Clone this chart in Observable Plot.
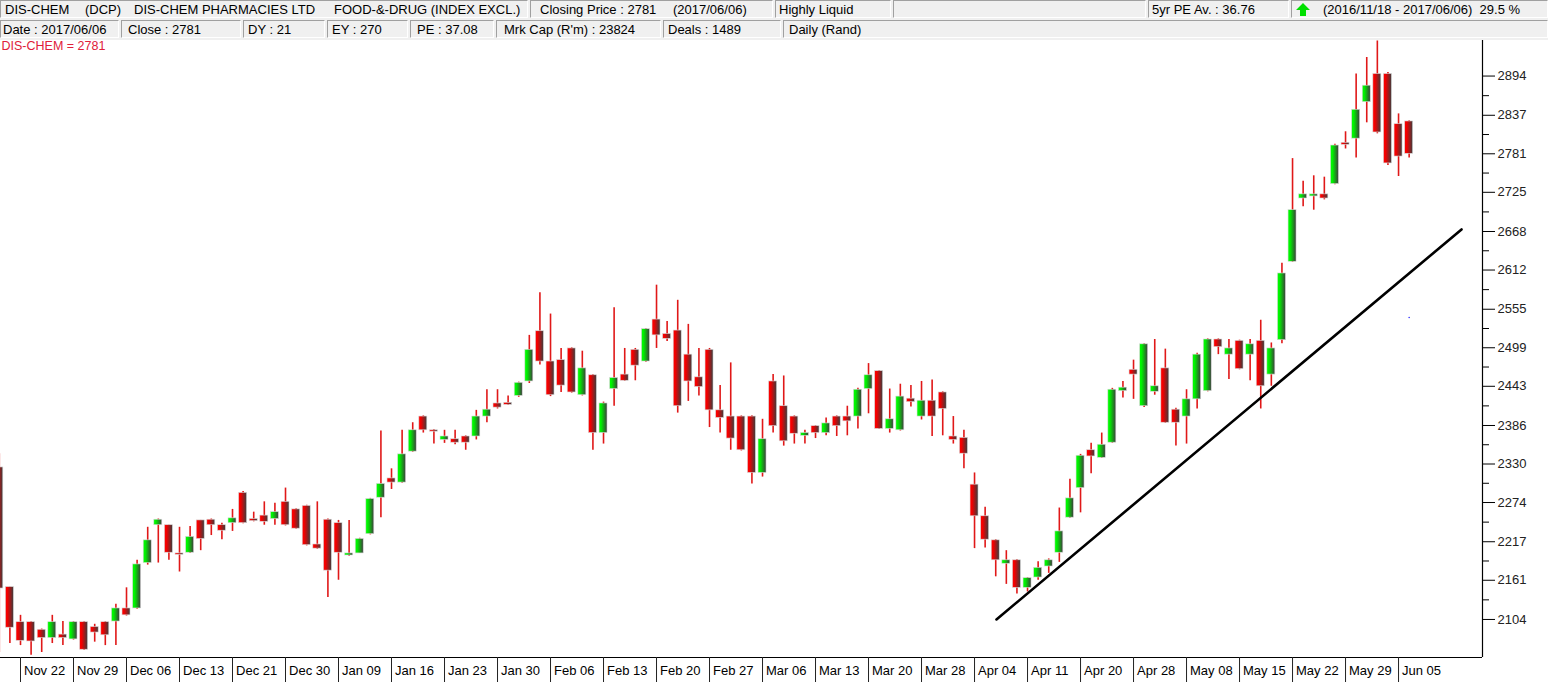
<!DOCTYPE html>
<html>
<head>
<meta charset="utf-8">
<script src="https://cdn.jsdelivr.net/npm/d3@7"></script>
<script src="https://cdn.jsdelivr.net/npm/@observablehq/plot@0.6"></script>
<style>
  html, body { margin: 0; padding: 0; background: #fff; }
  body { width: 1548px; height: 682px; overflow: hidden; font-family: "Liberation Sans", Arial, sans-serif; }
  #hdr { position: relative; width: 1548px; height: 40px; background: #f0f0f0; font-size: 13px; color: #000; }
  .bx { position: absolute; box-sizing: border-box; height: 18px; border: 1px solid; border-color: #a0a0a0 #ffffff #ffffff #a0a0a0; }
  .tx { position: absolute; line-height: 18px; white-space: pre; }
  #chart svg { display: block; }
</style>
</head>
<body>
<svg width="0" height="0" style="position:absolute">
  <defs>
    <linearGradient id="gR" x1="0" x2="1" y1="0" y2="0">
      <stop offset="0" stop-color="#ff0000"/>
      <stop offset="0.25" stop-color="#f20000"/>
      <stop offset="1" stop-color="#3c3c3c"/>
    </linearGradient>
    <linearGradient id="gG" x1="0" x2="1" y1="0" y2="0">
      <stop offset="0" stop-color="#00ff00"/>
      <stop offset="0.25" stop-color="#00f000"/>
      <stop offset="1" stop-color="#3c3c3c"/>
    </linearGradient>
  </defs>
</svg>
<div id="hdr">
  <div class="bx" style="left:0;top:0;width:528px"></div>
  <div class="bx" style="left:530px;top:0;width:243px"></div>
  <div class="bx" style="left:775px;top:0;width:116px"></div>
  <div class="bx" style="left:893px;top:0;width:253px"></div>
  <div class="bx" style="left:1148px;top:0;width:141px"></div>
  <div class="bx" style="left:1291px;top:0;width:257px"></div>
  <span class="tx" style="left:5px;top:1px">DIS-CHEM</span>
  <span class="tx" style="left:85px;top:1px">(DCP)</span>
  <span class="tx" style="left:134px;top:1px">DIS-CHEM PHARMACIES LTD</span>
  <span class="tx" style="left:334px;top:1px">FOOD-&amp;-DRUG (INDEX EXCL.)</span>
  <span class="tx" style="left:540px;top:1px">Closing Price : 2781</span>
  <span class="tx" style="left:673px;top:1px">(2017/06/06)</span>
  <span class="tx" style="left:779px;top:1px">Highly Liquid</span>
  <span class="tx" style="left:1152px;top:1px">5yr PE Av. : 36.76</span>
  <svg style="position:absolute;left:1296px;top:3px" width="14" height="13" viewBox="0 0 14 13">
    <polygon points="7,0 14,7 10,7 10,13 4,13 4,7 0,7" fill="#00e000"/>
  </svg>
  <span class="tx" style="left:1323px;top:1px">(2016/11/18 - 2017/06/06)  29.5 %</span>

  <div class="bx" style="left:0;top:20px;width:119px"></div>
  <div class="bx" style="left:121px;top:20px;width:120px"></div>
  <div class="bx" style="left:243px;top:20px;width:82px"></div>
  <div class="bx" style="left:327px;top:20px;width:81px"></div>
  <div class="bx" style="left:410px;top:20px;width:84px"></div>
  <div class="bx" style="left:496px;top:20px;width:165px"></div>
  <div class="bx" style="left:663px;top:20px;width:118px"></div>
  <div class="bx" style="left:783px;top:20px;width:765px"></div>
  <span class="tx" style="left:3px;top:21px">Date : 2017/06/06</span>
  <span class="tx" style="left:128px;top:21px">Close : 2781</span>
  <span class="tx" style="left:248px;top:21px">DY : 21</span>
  <span class="tx" style="left:332px;top:21px">EY : 270</span>
  <span class="tx" style="left:417px;top:21px">PE : 37.08</span>
  <span class="tx" style="left:504px;top:21px">Mrk Cap (R'm) : 23824</span>
  <span class="tx" style="left:668px;top:21px">Deals : 1489</span>
  <span class="tx" style="left:789px;top:21px">Daily (Rand)</span>
</div>
<div id="chart"></div>
<script>
// Daily OHLC, DIS-CHEM, trading days 2016/11/18 .. 2017/06/06 (index 0..133)
const open  = [2325,2151,2100,2100,2089,2077,2082,2075,2100,2093,2100,2101,2120,2120,2186,2241,2241,2200,2201,2248,
               2249,2241,2244,2288,2250,2255,2250,2275,2264,2269,2213,2249,2244,2197,2200,2228,2281,2309,2303,2348,
               2399,2379,2365,2366,2370,2370,2399,2418,2419,2429,2450,2523,2479,2481,2498,2430,2459,2375,2439,2460,
               2496,2479,2540,2519,2524,2489,2456,2496,2408,2399,2399,2399,2317,2450,2414,2399,2371,2385,2375,2399,
               2399,2399,2439,2465,2381,2379,2425,2399,2422,2434,2370,2368,2300,2254,2219,2185,2190,2150,2165,2181,
               2201,2252,2295,2350,2339,2361,2436,2467,2414,2435,2469,2409,2399,2424,2436,2511,2489,2509,2489,2509,
               2460,2510,2624,2716,2719,2722,2737,2797,2803,2856,2897,2897,2824,2828];
const high  = [2345,2151,2110,2101,2090,2110,2101,2101,2101,2097,2101,2126,2150,2190,2238,2250,2241,2238,2239,2248,
               2250,2244,2264,2290,2260,2275,2273,2295,2265,2270,2275,2250,2248,2248,2222,2280,2378,2323,2379,2390,
               2400,2380,2379,2379,2371,2408,2438,2438,2429,2449,2517,2579,2548,2498,2499,2494,2460,2420,2557,2498,
               2498,2527,2590,2537,2568,2533,2498,2498,2444,2477,2400,2400,2395,2460,2458,2400,2379,2386,2397,2400,
               2414,2440,2476,2466,2439,2446,2444,2450,2452,2435,2399,2379,2317,2267,2220,2204,2191,2165,2188,2192,
               2266,2308,2344,2360,2375,2440,2450,2481,2505,2511,2497,2411,2438,2491,2512,2512,2511,2510,2511,2539,
               2506,2622,2774,2741,2749,2747,2795,2813,2897,2921,2945,2899,2839,2829];
const low   = [2056,2069,2066,2052,2056,2069,2066,2074,2059,2071,2066,2066,2109,2119,2183,2186,2190,2173,2200,2204,
               2226,2220,2232,2243,2246,2241,2241,2240,2235,2211,2206,2136,2161,2196,2200,2227,2252,2293,2302,2347,
               2375,2359,2360,2358,2350,2365,2390,2410,2415,2427,2447,2474,2428,2434,2433,2429,2350,2359,2414,2450,
               2451,2478,2498,2508,2404,2421,2429,2383,2375,2350,2349,2301,2311,2375,2356,2359,2359,2367,2371,2370,
               2371,2381,2403,2380,2375,2378,2413,2394,2370,2371,2359,2323,2207,2208,2166,2155,2141,2144,2161,2171,
               2187,2251,2259,2316,2338,2360,2426,2424,2412,2430,2389,2356,2359,2410,2435,2489,2453,2467,2451,2410,
               2443,2505,2623,2704,2699,2714,2736,2788,2775,2826,2810,2764,2748,2775];
const close = [2149,2092,2073,2072,2077,2100,2077,2100,2060,2085,2081,2120,2110,2184,2219,2249,2201,2198,2224,2221,
               2241,2233,2251,2244,2247,2246,2260,2241,2236,2212,2207,2175,2201,2200,2221,2279,2301,2303,2344,2379,
               2379,2377,2370,2361,2361,2399,2409,2412,2416,2448,2496,2479,2430,2444,2434,2469,2375,2418,2455,2451,
               2473,2526,2517,2512,2414,2450,2442,2408,2397,2367,2350,2317,2366,2385,2363,2374,2375,2375,2389,2385,
               2392,2438,2459,2381,2395,2428,2420,2422,2399,2410,2365,2345,2254,2220,2190,2190,2150,2164,2179,2190,
               2232,2280,2342,2341,2358,2438,2441,2460,2504,2443,2390,2390,2424,2489,2511,2500,2498,2468,2504,2443,
               2498,2607,2699,2722,2722,2716,2793,2794,2845,2880,2812,2767,2777,2781];

// date axis (every 5th trading day)
const tickIdx = [2,7,12,17,22,27,32,37,42,47,52,57,62,67,72,77,82,87,92,97,102,107,112,117,122,127,132];
const tickLabels = ["Nov 22","Nov 29","Dec 06","Dec 13","Dec 21","Dec 30","Jan 09","Jan 16","Jan 23","Jan 30",
                    "Feb 06","Feb 13","Feb 20","Feb 27","Mar 06","Mar 13","Mar 20","Mar 28","Apr 04","Apr 11",
                    "Apr 20","Apr 28","May 08","May 15","May 22","May 29","Jun 05"];
// price axis
const priceTicks = [2104,2161,2217,2274,2330,2386,2443,2499,2555,2612,2668,2725,2781,2837,2894];
// hand-drawn support line (day index, price)
const trendIdx = [94.07, 137.94];
const trendPrice = [2104, 2671];

const xDomain = [0.113, 139.92];
const yDomain = [2048.7, 2945.7];

const data = open.map((o, i) => ({i, open: o, high: high[i], low: low[i], close: close[i]}));
const up = data.filter(d => d.close >= d.open);
const down = data.filter(d => d.close < d.open);
const minorTicks = priceTicks.slice(1).map((t, k) => (t + priceTicks[k]) / 2);
const trend = trendIdx.map((i, k) => ({i, v: trendPrice[k]}));

const chart = Plot.plot({
  width: 1548,
  height: 642,
  marginTop: 0,
  marginBottom: 25,
  marginLeft: 0,
  marginRight: 66,
  x: {domain: xDomain, label: null},
  y: {domain: yDomain, label: null},
  style: {fontFamily: "'Liberation Sans', Arial, sans-serif", fontSize: "13px", color: "#000", background: "#fff", overflow: "visible"},
  marks: [
    Plot.ruleY([yDomain[0]], {stroke: "#000", strokeWidth: 1.2}),
    Plot.ruleX([xDomain[1]], {stroke: "#000", strokeWidth: 1.2}),
    Plot.axisX({ticks: tickIdx, tickSize: 25, tickFormat: () => "", stroke: "#222", label: null}),
    Plot.axisX({ticks: tickIdx, tickSize: 0, tickPadding: 8, textAnchor: "start", dx: 3.5, label: null,
                tickFormat: d => tickLabels[tickIdx.indexOf(d)], fill: "#000", fontSize: 13}),
    Plot.axisY({anchor: "right", ticks: priceTicks, tickSize: 12, tickPadding: 3, label: null,
                tickFormat: d => String(d), fill: "#222", fontSize: 13, stroke: "#000"}),
    Plot.axisY({anchor: "right", ticks: minorTicks, tickSize: 6, tickFormat: () => "", stroke: "#000", label: null}),
    Plot.ruleX(data, {x: "i", y1: "low", y2: "high", stroke: "#e01818", strokeWidth: 1.6}),
    Plot.rect(down, {x1: d => d.i - 0.5, x2: d => d.i + 0.5, insetLeft: 1.3, insetRight: 1.3,
                     y1: "open", y2: "close", fill: "url(#gR)", stroke: "#d8d8d8", strokeWidth: 0.6}),
    Plot.rect(up, {x1: d => d.i - 0.5, x2: d => d.i + 0.5, insetLeft: 1.3, insetRight: 1.3,
                   y1: "open", y2: "close", fill: "url(#gG)", stroke: "#d8d8d8", strokeWidth: 0.6}),
    Plot.line(trend, {x: "i", y: "v", stroke: "#000", strokeWidth: 2.6}),
    Plot.dot([{i: 133, v: 2543}], {x: "i", y: "v", r: 0.8, fill: "#3030ff", stroke: "none"}),
    Plot.text(["DIS-CHEM = 2781"], {frameAnchor: "top-left", textAnchor: "start", lineAnchor: "top",
               dx: 1, dy: 1, fill: "#e0203a", fontSize: 12.5})
  ]
});
document.getElementById("chart").appendChild(chart);
</script>
</body>
</html>
